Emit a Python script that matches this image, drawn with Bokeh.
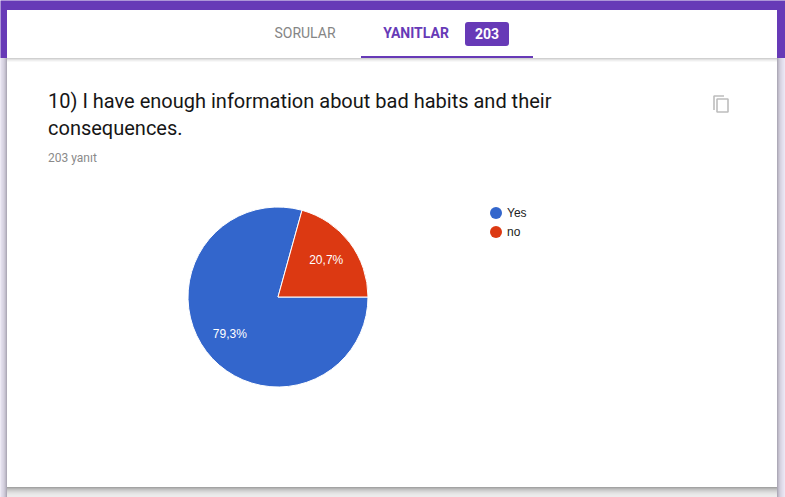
from math import pi, cos, sin

from bokeh.core.properties import value
from bokeh.embed import file_html
from bokeh.models import Range1d
from bokeh.plotting import figure
from bokeh.resources import INLINE

categories = ["Yes", "no"]
values = [79.3, 20.7]
colors = ["#3366cc", "#dc3912"]
value_labels = ["79,3%", "20,7%"]
tab_labels = ["SORULAR", "YANITLAR"]
response_count = "203"
question_lines = ["10) I have enough information about bad habits and their", "consequences."]
response_text = "203 yanıt"

W, H = 785, 497
PURPLE = "#673ab7"
CX, CY, R = 278, 297, 90
ROBOTO = value("Roboto")
ARIAL = value("Liberation Sans")

p = figure(width=W, height=H, output_backend="svg", toolbar_location=None,
           x_range=Range1d(0.5, W + 0.5), y_range=Range1d(H + 0.5, 0.5), min_border=0,
           background_fill_color="#ece8f4", border_fill_color="#ece8f4",
           outline_line_color=None)
p.axis.visible = False
p.grid.visible = False

# page behind the card
p.quad(left=[0], right=[W + 2], top=[0], bottom=[58], color=PURPLE, line_color=None)
side = ["#e6e2f0", "#e2deec", "#dcd8e6", "#d6d2e0", "#ccc8d6", "#bfbbc9", "#aeaab8"]
for i, c in enumerate(side):
    p.quad(left=[i], right=[i + 1], top=[58], bottom=[H + 2], color=c, line_color=None)
    p.quad(left=[783 - i], right=[784 - i], top=[58], bottom=[H + 2], color=c, line_color=None)
for i, c in enumerate(["#a3a3a3", "#b4b4b4", "#c2c2c2", "#cdcdcd", "#d6d6d6", "#dedede", "#e4e4e4", "#e8e8e8", "#ebebeb", "#ececec", "#ececec"]):
    p.quad(left=[7], right=[777], top=[487 + i], bottom=[488 + i], color=c, line_color=None)
p.quad(left=[7], right=[777], top=[10], bottom=[487], color="white", line_color=None)
for i, c in enumerate(["#d0d0d0", "#e2e2e2", "#efefef", "#f8f8f8"]):
    p.quad(left=[7], right=[777], top=[58 + i], bottom=[59 + i], color=c, line_color=None)

# tabs
p.text(x=[305], y=[33], text=[tab_labels[0]], text_font=ROBOTO, text_font_size="14px",
       text_font_style="normal", text_color="#858585", text_align="center", text_baseline="middle")
p.text(x=[416], y=[33], text=[tab_labels[1]], text_font=ROBOTO, text_font_size="14px",
       text_font_style="bold", text_color=PURPLE, text_align="center", text_baseline="middle")
p.quad(left=[465], right=[509], top=[22], bottom=[46], color=PURPLE, line_color=None, border_radius=3)
p.text(x=[487], y=[33], text=[response_count], text_font=ROBOTO, text_font_size="14px",
       text_font_style="bold", text_color="white", text_align="center", text_baseline="middle")
p.quad(left=[361], right=[533], top=[56], bottom=[58], color=PURPLE, line_color=None)

# question
p.text(x=[48, 48], y=[101, 128], text=question_lines, text_font=ROBOTO, text_font_size="20px",
       text_color="#161616", text_baseline="middle")
p.text(x=[48], y=[158], text=[response_text], text_font=ROBOTO, text_font_size="12px",
       text_color="#8a8a8a", text_baseline="middle")

# copy icon
p.line(x=[714, 714, 724], y=[110, 96, 96], line_color="#bdbdbd", line_width=1.6)
p.quad(left=[717], right=[728], top=[99], bottom=[112], fill_color=None, line_color="#bdbdbd", line_width=1.6)

# pie, red first counter-clockwise from 3 o'clock
total = sum(values)
end = 2 * pi
for cat, val, col, lab in zip(categories, values, colors, value_labels):
    start = end - val / total * 2 * pi
    p.wedge(x=[CX], y=[CY], radius=R, start_angle=start, end_angle=end, direction="anticlock",
            fill_color=col, line_color="white", line_width=1)
    mid = (start + end) / 2
    p.text(x=[CX + 0.673 * R * cos(mid)], y=[CY - 0.673 * R * sin(mid)], text=[lab],
           text_font=ARIAL, text_font_size="12px", text_color="white",
           text_align="center", text_baseline="middle")
    end = start

# legend
for i, (cat, col) in enumerate(zip(categories, colors)):
    yy = 213 + i * 19
    p.scatter(x=[496], y=[yy], size=12, color=col, line_color=None)
    p.text(x=[507], y=[yy], text=[cat], text_font=ARIAL, text_font_size="12px",
           text_color="#222222", text_baseline="middle")

open("out.html", "w").write(file_html(p, INLINE))
